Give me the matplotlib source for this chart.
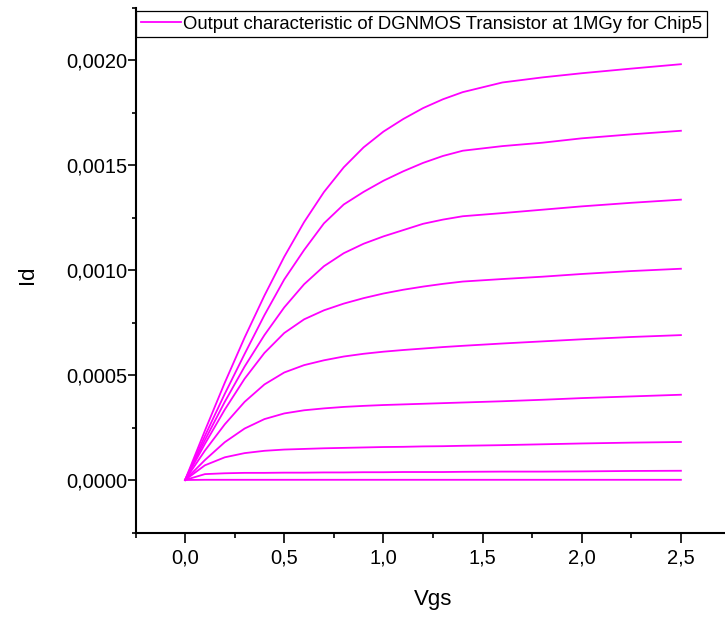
#!/usr/bin/env python3
"""
DGNMOS 晶体管输出特性曲线 (1MGy, Chip5)
"""

import matplotlib
matplotlib.use('Agg')  # 使用非交互式后端
import matplotlib.pyplot as plt
from matplotlib.ticker import FixedLocator, FuncFormatter
import numpy as np

plt.rcParams['font.family'] = ['Liberation Sans', 'DejaVu Sans']

# 横轴电压 (V)
vgs = [0, 0.1, 0.2, 0.3, 0.4, 0.5, 0.6, 0.7, 0.8, 0.9, 1.0, 1.1, 1.2, 1.3, 1.4,
       1.6, 1.8, 2.0, 2.25, 2.5]

# 各条曲线的漏极电流 (uA)，从上到下
id_1 = [0, 235, 463, 678, 878, 1063, 1228, 1371, 1489, 1584, 1659, 1719, 1771, 1813, 1847,
        1893, 1917, 1937, 1959, 1980]
id_2 = [0, 210, 410, 600, 785, 955, 1095, 1222, 1312, 1372, 1425, 1470, 1510, 1543, 1568,
        1590, 1606, 1627, 1646, 1663]
id_3 = [0, 190, 372, 540, 690, 822, 932, 1018, 1080, 1125, 1160, 1190, 1220, 1240, 1256,
        1271, 1287, 1303, 1320, 1335]
id_4 = [0, 172, 335, 482, 605, 700, 765, 808, 840, 866, 888, 906, 921, 934, 945,
        957, 968, 981, 995, 1006]
id_5 = [0, 140, 265, 372, 455, 512, 547, 570, 588, 601, 611, 619, 626, 633, 639,
        650, 660, 670, 681, 690]
id_6 = [0, 95, 180, 245, 290, 317, 332, 341, 348, 353, 357, 360, 363, 366, 369,
        375, 382, 390, 398, 406]
id_7 = [0, 70, 108, 128, 139, 145, 148, 151, 153, 155, 157, 158, 160, 161, 163,
        166, 170, 174, 178, 181]
id_8 = [0, 28, 32, 34, 34, 35, 35, 36, 36, 37, 37, 38, 38, 38, 39,
        40, 40, 41, 43, 44]
id_9 = [0, 1, 1, 1, 1, 1, 1, 1, 1, 1, 1, 1, 1, 1, 1,
        1, 1, 1, 1, 1]

curves = [id_1, id_2, id_3, id_4, id_5, id_6, id_7, id_8, id_9]
legend_label = 'Output characteristic of DGNMOS Transistor at 1MGy for Chip5'

x_major = [0, 0.5, 1.0, 1.5, 2.0, 2.5]
x_minor = [-0.25, 0.25, 0.75, 1.25, 1.75, 2.25]
y_major = [0, 0.0005, 0.0010, 0.0015, 0.0020]
y_minor = [-0.00025, 0.00025, 0.00075, 0.00125, 0.00175, 0.00225]

W, H = 725, 618
fig = plt.figure(figsize=(W / 100, H / 100), dpi=100)
ax = fig.add_axes([135.5 / W, (H - 532.5) / H, 595 / W, 525 / H])

color = '#FF00FF'
for i, cur in enumerate(curves):
    ax.plot(vgs, np.array(cur) * 1e-6, color=color, lw=1.3,
            label=legend_label if i == 0 else None)

ax.set_xlim(-0.25, 2.75)
ax.set_ylim(-0.00025, 0.00225)

# 坐标轴样式
ax.spines['top'].set_visible(False)
ax.spines['right'].set_visible(False)
for side in ['left', 'bottom']:
    ax.spines[side].set_linewidth(1.5)

ax.xaxis.set_major_locator(FixedLocator(x_major))
ax.xaxis.set_minor_locator(FixedLocator(x_minor))
ax.yaxis.set_major_locator(FixedLocator(y_major))
ax.yaxis.set_minor_locator(FixedLocator(y_minor))
ax.xaxis.set_major_formatter(FuncFormatter(lambda v, p: f'{v:.1f}'.replace('.', ',')))
ax.yaxis.set_major_formatter(FuncFormatter(lambda v, p: f'{v:.4f}'.replace('.', ',')))

ax.tick_params(axis='x', which='major', length=7, width=1.2, labelsize=14.5, pad=4.5)
ax.tick_params(axis='x', which='minor', length=3.5, width=1.2)
ax.tick_params(axis='y', which='major', length=5.5, width=1.2, labelsize=14.5, pad=0.5)
ax.tick_params(axis='y', which='minor', length=3, width=1.2)

# 轴标签
fig.text(433 / W, 1 - 599 / H, 'Vgs', fontsize=16, ha='center', va='center')
fig.text(27.5 / W, 1 - 275 / H, 'Id', fontsize=16, ha='center', va='center', rotation=90)

# 图例
leg = ax.legend(loc='upper left', bbox_to_anchor=(136 / W, 1 - 11 / H),
                bbox_transform=fig.transFigure, borderaxespad=0, borderpad=0.25,
                handlelength=2.2, handletextpad=0.1, fancybox=False, framealpha=1,
                prop={'size': 13.35})
leg.get_frame().set_edgecolor('black')
leg.get_frame().set_linewidth(0.9)

fig.savefig('out.png', dpi=100)
plt.close(fig)
